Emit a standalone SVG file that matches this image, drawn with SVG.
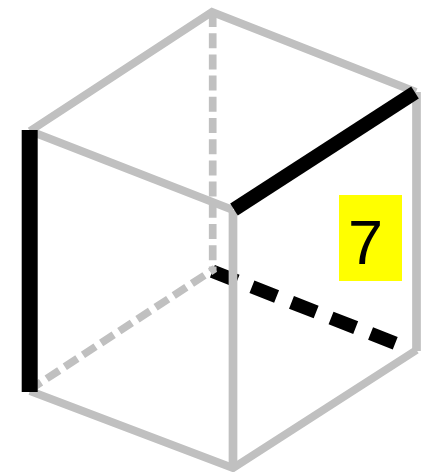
<svg xmlns="http://www.w3.org/2000/svg" width="427" height="472" viewBox="0 0 427 472">
<style>
.edge{fill:none;stroke:#c0c0c0;stroke-width:8}
.vert{fill:none;stroke:#c0c0c0;stroke-width:8.700}
.hid{fill:none;stroke:#c0c0c0;stroke-width:7.700;stroke-dasharray:15 6.200}
.hid2{fill:none;stroke:#c0c0c0;stroke-width:7.700;stroke-dasharray:15 6.700}
.bold{fill:none;stroke:#000;stroke-width:16}
.boldg{fill:none;stroke:#000;stroke-width:14}
.boldd{fill:none;stroke:#000;stroke-width:13.500;stroke-dasharray:26.500 16}
</style>
<rect width="427" height="472" fill="#fff"/>
<g id="connectors">
<path class="boldd" d="M212.400 271.200L397 343.900"/>
<path class="hid" d="M212.700 12V271"/>
<path class="hid2" d="M28.500 390.500L215 268.500"/>
<path class="edge" d="M30 131L212 12L416 92"/>
<path class="edge" d="M30 131L233 210"/>
<path class="edge" d="M30 391L233 468L416.500 350"/>
<path class="vert" d="M233 210V468"/>
<path class="vert" d="M416.500 92V351"/>
<path class="bold" d="M29.700 130V392"/>
<path class="boldg" d="M234 209.500L415 92.500"/>
</g>
<g id="label">
<rect x="339" y="195" width="63" height="86" fill="#ff0"/>
<text x="365.500" y="264" font-family="'Liberation Sans',Arial,sans-serif" font-size="63" text-anchor="middle">7</text>
</g>
</svg>
